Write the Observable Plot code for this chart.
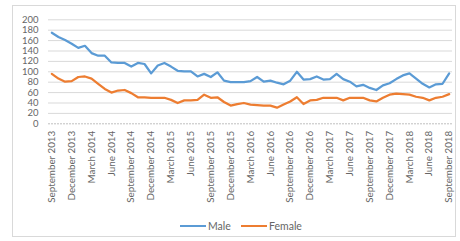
<!DOCTYPE html>
<html>
<head>
<meta charset="utf-8">
<script src="https://cdn.jsdelivr.net/npm/d3@7"></script>
<script src="https://cdn.jsdelivr.net/npm/@observablehq/plot@0.6"></script>
<style>
  html, body { margin: 0; padding: 0; background: #fff; }
  #wrap { position: relative; width: 460px; height: 241px; overflow: hidden; font-family: Lato, "Open Sans", sans-serif; }
  #frame { position: absolute; left: 12px; top: 5px; width: 444px; height: 232px; border: 1px solid #d9d9d9; box-sizing: border-box; pointer-events: none; }
  #chart { position: absolute; left: 0; top: 0; }
  #legend { position: absolute; top: 219px; left: 0; width: 460px; height: 14px; font-size: 10.5px; color: #666; }
  .item { position: absolute; top: 0; display: flex; align-items: center; height: 14px; }
  .swatch { width: 26px; height: 2.5px; margin-right: 2px; }
  .xax text { font-size: 9.8px; fill: #666; }
  .yax text { font-size: 9.5px; fill: #666; }
</style>
</head>
<body>
<div id="wrap">
  <div id="chart"></div>
  <div id="frame"></div>
  <div id="legend"></div>
</div>
<script>
// ---- data ----
const seriesNames = ["Male", "Female"];
const seriesColors = ["#5b9bd5", "#ed7d31"];
const startMonth = "2013-09";
const maleValues = [175,167,161,154,146,150,136,131,131,118,117,117,110,117,115,97,112,117,110,102,101,101,91,96,90,99,83,80,80,80,82,90,81,83,79,76,83,100,85,86,91,85,86,96,86,81,72,75,69,65,74,78,86,93,97,87,77,70,76,77,97];
const femaleValues = [96,87,81,82,90,91,87,77,67,60,64,65,59,51,51,50,50,50,46,40,45,45,46,56,50,51,42,35,38,40,37,36,35,35,31,37,43,51,38,45,46,50,50,50,45,50,50,50,45,43,50,56,58,57,56,52,50,45,50,52,57];
const tickLabels = ["September 2013","December 2013","March 2014","June 2014","September 2014","December 2014","March 2015","June 2015","September 2015","December 2015","March 2016","June 2016","September 2016","December 2016","March 2017","June 2017","September 2017","December 2017","March 2018","June 2018","September 2018"];
const yTicks = [0,20,40,60,80,100,120,140,160,180,200];

// month category keys
const start = d3.utcParse("%Y-%m")(startMonth);
const months = d3.utcMonth.range(start, d3.utcMonth.offset(start, maleValues.length));
const fmtKey = d3.utcFormat("%Y-%m");
const keys = months.map(fmtKey);
const tickKeys = keys.filter((k, i) => i % 3 === 0);
const labelOf = new Map(tickKeys.map((k, i) => [k, tickLabels[i]]));

const rows = [];
[maleValues, femaleValues].forEach((vals, s) => {
  vals.forEach((v, i) => rows.push({month: keys[i], value: v, series: seriesNames[s]}));
});

const chart = Plot.plot({
  width: 460,
  height: 241,
  marginTop: 19.3,
  marginBottom: 117.7,
  marginLeft: 48,
  marginRight: 8,
  style: {fontFamily: "Lato, 'Open Sans', sans-serif", fontSize: "10px", color: "#666", background: "transparent"},
  x: {type: "point", domain: keys, padding: 0.5, label: null},
  y: {domain: [0, 200], label: null},
  color: {domain: seriesNames, range: seriesColors},
  marks: [
    Plot.ruleY(yTicks.filter(d => d > 0), {stroke: "#d9d9d9", strokeWidth: 1}),
    Plot.ruleY([0], {stroke: "#bfbfbf", strokeWidth: 1, strokeDasharray: "2,1"}),
    Plot.axisX({ticks: tickKeys, tickFormat: k => labelOf.get(k), tickRotate: -90, tickSize: 0, tickPadding: 7, className: "xax"}),
    Plot.axisY({ticks: yTicks, tickSize: 0, tickPadding: 10, className: "yax"}),
    Plot.line(rows, {x: "month", y: "value", z: "series", stroke: "series", strokeWidth: 2.25, strokeLinejoin: "round", strokeLinecap: "round"})
  ]
});
document.getElementById("chart").appendChild(chart);

// legend
const legend = document.getElementById("legend");
const legendLeft = [180, 241];
seriesNames.forEach((name, i) => {
  const item = document.createElement("div");
  item.className = "item";
  item.style.left = legendLeft[i] + "px";
  const sw = document.createElement("span");
  sw.className = "swatch";
  sw.style.background = seriesColors[i];
  const t = document.createElement("span");
  t.textContent = name;
  item.appendChild(sw);
  item.appendChild(t);
  legend.appendChild(item);
});
</script>
</body>
</html>
